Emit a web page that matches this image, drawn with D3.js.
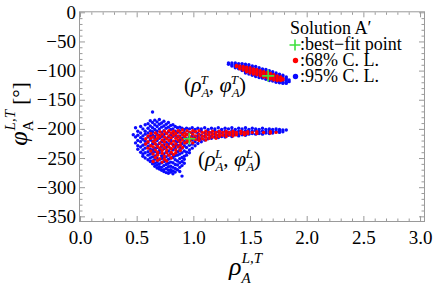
<!DOCTYPE html>
<html>
<head>
<meta charset="utf-8">
<script src="https://cdn.jsdelivr.net/npm/d3@7"></script>
<style>
body { margin: 0; background: #fff; }
svg { display: block; font-family: "Liberation Serif", "Times New Roman", serif; }
</style>
</head>
<body>
<script>
var xTicks = [0, 0.5, 1, 1.5, 2, 2.5, 3];
var yTicks = [0, -50, -100, -150, -200, -250, -300, -350];

// scatter strips: [rho, [phi, phi, ...]]
var blueL = [
    [0.47, [-210]],
    [0.49, [-198, -214, -224]],
    [0.51, [-204, -211, -220, -229, -235]],
    [0.535, [-196, -207, -215, -222, -231, -240]],
    [0.555, [-200, -212, -218, -228, -236, -243, -247]],
    [0.575, [-193, -204, -209, -221, -226, -233, -241, -250]],
    [0.60, [-191, -199, -207, -214, -224, -230, -239, -245, -253]],
    [0.62, [-186, -195, -203, -212, -219, -229, -235, -243, -250, -256]],
    [0.64, [-171, -189, -198, -205, -210, -221, -226, -236, -241, -248, -255, -260]],
    [0.66, [-185, -193, -201, -213, -217, -224, -233, -239, -247, -252, -259, -264]],
    [0.68, [-188, -196, -204, -209, -220, -228, -232, -244, -250, -257, -262, -267]],
    [0.70, [-184, -192, -200, -211, -216, -225, -237, -241, -253, -260, -265, -269]],
    [0.72, [-190, -197, -206, -213, -222, -230, -236, -246, -251, -258, -266, -271]],
    [0.74, [-187, -195, -203, -210, -219, -227, -234, -243, -249, -256, -263, -270, -273]],
    [0.76, [-192, -199, -208, -216, -223, -232, -240, -248, -255, -261, -268, -275]],
    [0.78, [-189, -197, -205, -214, -226, -230, -238, -245, -252, -259, -265, -271, -276]],
    [0.80, [-194, -201, -210, -218, -222, -234, -242, -250, -257, -264, -270, -274]],
    [0.82, [-193, -200, -207, -213, -227, -236, -244, -249, -258, -266, -272, -277]],
    [0.84, [-196, -204, -211, -221, -229, -233, -246, -253, -261, -268, -274]],
    [0.86, [-198, -206, -214, -222, -228, -239, -245, -255, -262, -270]],
    [0.88, [-197, -203, -212, -219, -231, -236, -243, -251, -258, -266, -273]],
    [0.90, [-199, -208, -216, -225, -233, -241, -249, -256, -263, -281]],
    [0.92, [-201, -206, -213, -221, -229, -238, -247, -252, -259]],
    [0.94, [-199, -209, -217, -224, -232, -240, -245]],
    [0.965, [-200, -206, -214, -221, -228, -236, -241]],
    [0.99, [-198, -207, -212, -219, -226, -233]],
    [1.015, [-201, -205, -214, -222, -229]],
    [1.04, [-199, -208, -213, -218, -225]],
    [1.07, [-200, -204, -211, -217, -222]],
    [1.10, [-198, -207, -213, -219]],
    [1.13, [-201, -205, -210, -217]],
    [1.16, [-199, -206, -212, -216]],
    [1.19, [-200, -204, -209, -214]],
    [1.22, [-198, -205, -211, -215]],
    [1.25, [-201, -207, -213]],
    [1.28, [-199, -204, -210, -214]],
    [1.31, [-200, -206, -211]],
    [1.34, [-198, -203, -208, -213]],
    [1.37, [-201, -206, -210]],
    [1.40, [-199, -204, -209, -212]],
    [1.43, [-200, -205, -210]],
    [1.46, [-198, -203, -207, -211]],
    [1.49, [-201, -205, -209]],
    [1.52, [-199, -204, -208]],
    [1.55, [-200, -203, -209]],
    [1.58, [-201, -205, -208]],
    [1.61, [-199, -204, -209]],
    [1.64, [-201, -205, -207]],
    [1.67, [-200, -203, -208]],
    [1.70, [-201, -205, -207]],
    [1.73, [-200, -204]],
    [1.76, [-201, -203, -206]],
    [1.79, [-202, -205]],
    [1.82, [-202]]
];
var redL = [
    [0.58, [-217, -226]],
    [0.60, [-212, -222, -233]],
    [0.625, [-208, -216, -229, -238]],
    [0.645, [-214, -222, -231, -243, -256]],
    [0.665, [-207, -219, -226, -236, -249]],
    [0.685, [-211, -216, -230, -240, -245, -254]],
    [0.705, [-205, -213, -224, -233, -251]],
    [0.725, [-209, -219, -228, -237, -242, -257]],
    [0.745, [-204, -214, -222, -232, -247, -252]],
    [0.765, [-208, -217, -227, -236, -241, -255]],
    [0.785, [-203, -212, -220, -231, -245]],
    [0.805, [-207, -215, -225, -234, -240, -250]],
    [0.825, [-204, -211, -221, -230, -244]],
    [0.845, [-208, -216, -226, -236, -241]],
    [0.865, [-203, -212, -219, -231]],
    [0.885, [-206, -215, -223, -228, -237]],
    [0.905, [-202, -210, -219, -232]],
    [0.925, [-207, -213, -224]],
    [0.945, [-203, -210, -218, -222]],
    [0.97, [-206, -214, -220]],
    [0.995, [-203, -209, -216, -224]],
    [1.02, [-205, -212, -218]],
    [1.05, [-203, -209, -215, -220]],
    [1.08, [-206, -212, -217]],
    [1.11, [-204, -209, -214, -219]],
    [1.14, [-206, -211, -216]],
    [1.17, [-204, -209, -214]],
    [1.20, [-206, -211, -216]],
    [1.23, [-204, -209, -213]],
    [1.26, [-206, -211]],
    [1.29, [-204, -208, -213]],
    [1.32, [-206, -210]],
    [1.35, [-204, -208, -212]],
    [1.38, [-206, -210]],
    [1.42, [-204, -208]],
    [1.45, [-206, -210]],
    [1.48, [-205, -208]],
    [1.52, [-206]],
    [1.56, [-205, -208]],
    [1.62, [-206]],
    [1.68, [-205, -207]],
    [1.73, [-206]]
];
var blueT = [
    [1.31, [-87, -89]],
    [1.34, [-87, -90, -92]],
    [1.37, [-87, -90, -93, -95]],
    [1.40, [-88, -91, -94, -97]],
    [1.43, [-88, -91, -94, -97, -100]],
    [1.46, [-89, -92, -96, -99, -102, -104]],
    [1.49, [-90, -93, -97, -100, -103, -106]],
    [1.52, [-92, -95, -98, -102, -105, -108]],
    [1.55, [-93, -97, -100, -103, -107, -110]],
    [1.58, [-95, -98, -102, -105, -108, -112]],
    [1.61, [-97, -100, -103, -107, -110, -113]],
    [1.64, [-98, -102, -105, -108, -112, -115]],
    [1.67, [-100, -103, -107, -110, -113, -117]],
    [1.70, [-102, -105, -108, -112, -115, -118]],
    [1.73, [-104, -107, -110, -113, -117, -120]],
    [1.76, [-106, -109, -112, -115, -118, -121]],
    [1.79, [-108, -111, -114, -117, -120, -122]],
    [1.82, [-111, -114, -117, -120, -122]],
    [1.845, [-116, -119]]
];
var redT = [
    [1.38, [-91, -93]],
    [1.41, [-92, -95, -97]],
    [1.44, [-93, -96, -99]],
    [1.47, [-94, -97, -100, -102]],
    [1.50, [-95, -98, -101, -104]],
    [1.53, [-97, -100, -103, -106]],
    [1.56, [-98, -101, -104, -107]],
    [1.59, [-100, -103, -106, -109]],
    [1.62, [-102, -105, -108, -111]],
    [1.65, [-103, -106, -109, -112]],
    [1.68, [-105, -108, -111, -114]],
    [1.71, [-107, -110, -113, -116]],
    [1.74, [-109, -112, -115, -117]],
    [1.77, [-111, -114, -117]],
    [1.79, [-114, -116]]
];
var bestFit = [[0.965, -217], [1.66, -109]];
var legendItems = ['Solution A\u2032', ':best\u2212fit point', ':68% C. L.', ':95% C. L.'];

var width = 436, height = 286;
var plotLeft = 80, plotRight = 424, plotTop = 12.3, plotBottom = 221;

var x = d3.scaleLinear().domain([0, 3.035]).range([plotLeft, plotRight]);
var y = d3.scaleLinear().domain([-358, 0]).range([plotBottom, plotTop]);

var svg = d3.select('body').append('svg')
    .attr('width', width)
    .attr('height', height);

/* Frame */
svg.append('rect')
    .attr('x', plotLeft - 0.5)
    .attr('y', plotTop - 0.5)
    .attr('width', plotRight - plotLeft + 1)
    .attr('height', plotBottom - plotTop + 1)
    .attr('fill', 'none')
    .attr('stroke', '#9a9a9a')
    .attr('stroke-width', 1);

var xMinor = d3.range(0, 30.5, 1).map(function (d) { return d / 10; })
    .filter(function (d) { return Math.round(d * 10) % 5 !== 0; });
var yMinor = d3.range(-350, 1, 10).filter(function (d) { return d % 50 !== 0; });

function addAxis(axis, tx, ty, ticks, size, fmt, pad) {
    var g = svg.append('g')
        .attr('transform', 'translate(' + tx + ',' + ty + ')')
        .call(axis.tickValues(ticks).tickSizeInner(-size).tickSizeOuter(0)
            .tickPadding(pad || 0).tickFormat(fmt || ''));
    g.select('.domain').remove();
    g.selectAll('line').attr('stroke', '#9a9a9a');
    g.selectAll('text')
        .attr('font-family', '"Liberation Serif", serif')
        .attr('font-size', 19)
        .attr('fill', '#000');
    return g;
}

var yFmt = function (d) { return d === 0 ? '0' : '\u2212' + Math.abs(d); };

addAxis(d3.axisBottom(x), 0, plotBottom, xTicks, 5, d3.format('.1f'), 10);
addAxis(d3.axisBottom(x), 0, plotBottom, xMinor, 2.5);
addAxis(d3.axisTop(x), 0, plotTop, xTicks, 5);
addAxis(d3.axisTop(x), 0, plotTop, xMinor, 2.5);
addAxis(d3.axisLeft(y), plotLeft, 0, yTicks, 5, yFmt, 4);
addAxis(d3.axisLeft(y), plotLeft, 0, yMinor, 2.5);
addAxis(d3.axisRight(y), plotRight, 0, yTicks, 5);
addAxis(d3.axisRight(y), plotRight, 0, yMinor, 2.5);

/* Points */
function flat(strips) {
    return strips.reduce(function (acc, s) {
        return acc.concat(s[1].map(function (p) { return [s[0], p]; }));
    }, []);
}

function drawDots(strips, color) {
    svg.append('g').selectAll('circle')
        .data(flat(strips))
        .enter().append('circle')
        .attr('cx', function (d) { return x(d[0]); })
        .attr('cy', function (d) { return y(d[1]); })
        .attr('r', 1.7)
        .attr('fill', color);
}

drawDots(blueL, '#0a0aff');
drawDots(blueT, '#0a0aff');
drawDots(redL, '#ff0000');
drawDots(redT, '#ff0000');

var green = '#3ee03e';
svg.append('g').selectAll('path')
    .data(bestFit)
    .enter().append('path')
    .attr('d', function (d) {
        var cx = x(d[0]), cy = y(d[1]);
        return 'M' + (cx - 6) + ',' + cy + 'H' + (cx + 6) + 'M' + cx + ',' + (cy - 6) + 'V' + (cy + 6);
    })
    .attr('stroke', green)
    .attr('stroke-width', 1.6)
    .attr('fill', 'none');

/* Math text helper: parts = [text, size, italic, dx, dy] */
function mathText(parent, parts) {
    parts.forEach(function (p) {
        parent.append('tspan')
            .text(p[0])
            .attr('font-size', p[1])
            .attr('font-style', p[2] ? 'italic' : 'normal')
            .attr('dx', p[3] || 0)
            .attr('dy', p[4] || 0);
    });
}

/* Cluster labels */
function pairLabel(px, py, sup) {
    var t = svg.append('text').attr('x', px).attr('y', py).attr('fill', '#000');
    mathText(t, [
        ['(', 21], ['\u03c1', 22, true],
        ['A', 13, true, 0, 5], [sup, 13, true, -8.5, -13],
        [',', 21, false, 1, 8], [' \u03c6', 22, true],
        ['A', 13, true, 0, 5], [sup, 13, true, -8.5, -13],
        [')', 21, false, 1, 8]
    ]);
}
pairLabel(184, 92, 'T');
pairLabel(198, 166, 'L');

/* Axis titles */
var xt = svg.append('text').attr('x', 229).attr('y', 275).attr('fill', '#000');
mathText(xt, [
    ['\u03c1', 26, true],
    ['A', 15, true, 0, 8],
    ['L,T', 15, true, -9, -20]
]);

var yt = svg.append('text')
    .attr('transform', 'translate(27,114) rotate(-90)')
    .attr('text-anchor', 'middle')
    .attr('fill', '#000');
mathText(yt, [
    ['\u03c6', 26, true],
    ['A', 15, false, 0, 6],
    ['L,T', 15, true, -10, -18],
    [' [\u00b0]', 21, false, 0, 12]
]);

/* Legend */
var legendY = [33.5, 49.5, 65.5, 81.5];
svg.append('g').selectAll('text')
    .data(legendItems)
    .enter().append('text')
    .attr('x', function (d, i) { return i === 0 ? 290 : 300; })
    .attr('y', function (d, i) { return legendY[i]; })
    .attr('font-size', 18)
    .attr('fill', '#000')
    .text(function (d) { return d; });

svg.append('path')
    .attr('d', 'M289.5,45H300.5M295,39.5V50.5')
    .attr('stroke', green)
    .attr('stroke-width', 1.6);
svg.append('circle').attr('cx', 295.5).attr('cy', 60.5).attr('r', 2.7).attr('fill', '#ff0000');
svg.append('circle').attr('cx', 295.5).attr('cy', 76.5).attr('r', 2.7).attr('fill', '#0a0aff');
</script>
</body>
</html>
